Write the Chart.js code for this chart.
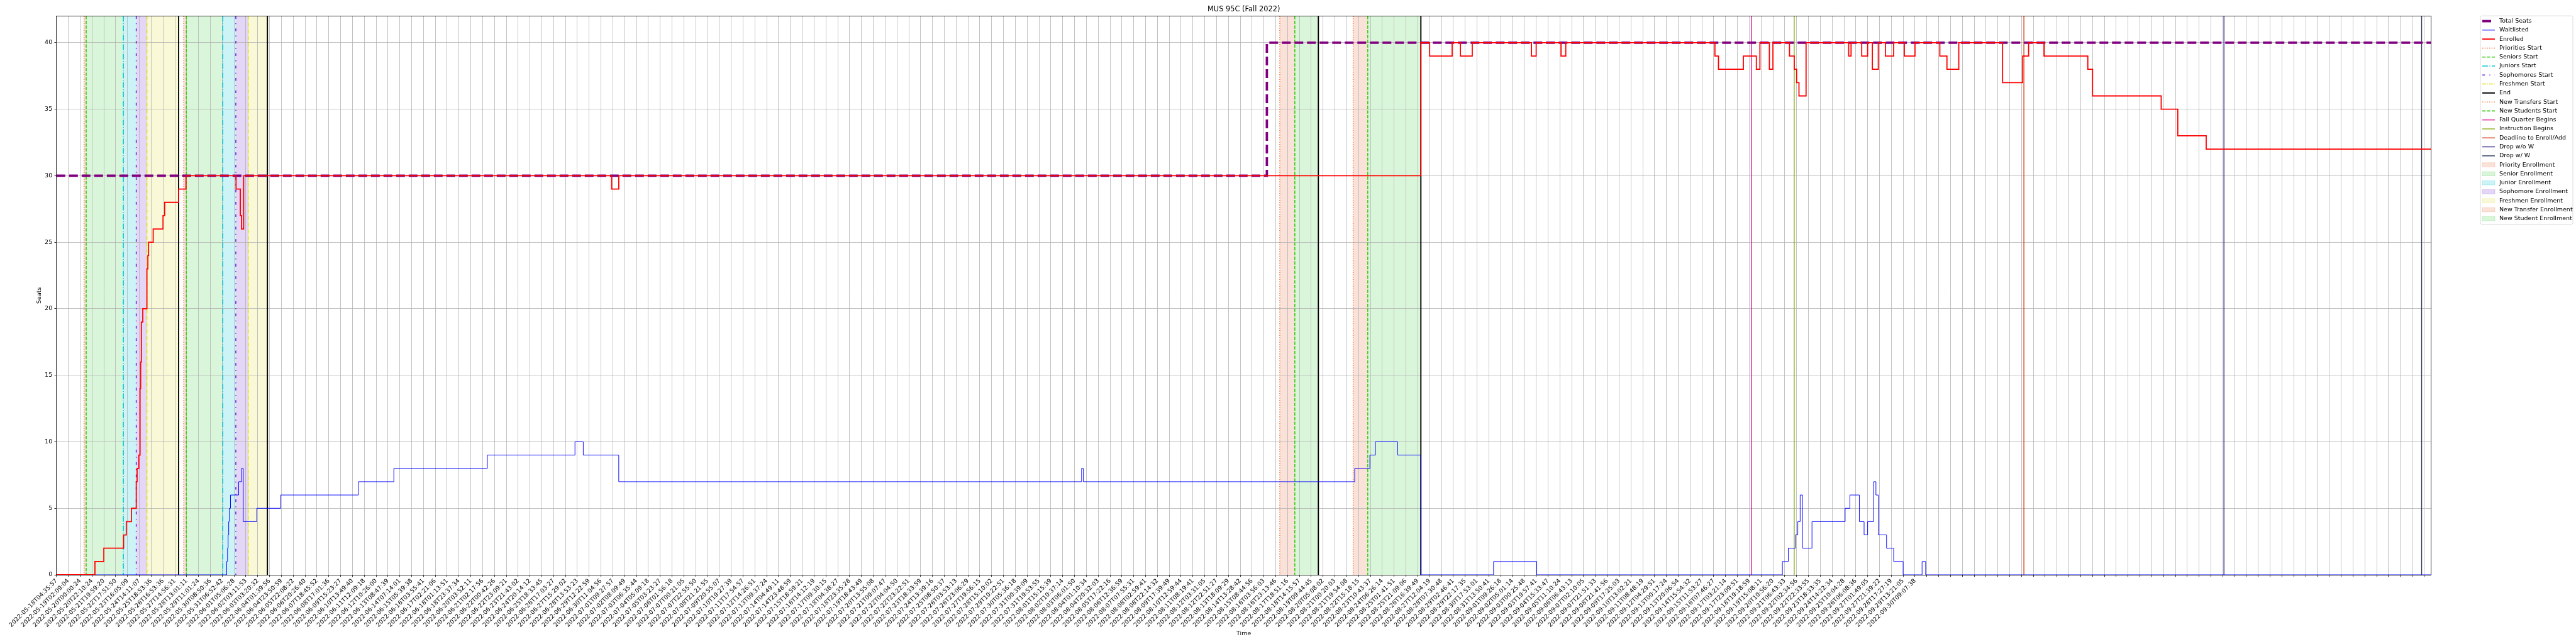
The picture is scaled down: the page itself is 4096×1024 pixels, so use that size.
<!DOCTYPE html>
<html>
<head>
<meta charset="utf-8">
<script src="https://cdn.jsdelivr.net/npm/chart.js@4.4.0/dist/chart.umd.min.js"></script>
<style>html,body{margin:0;padding:0;background:#fff}canvas{display:block}</style>
</head>
<body>
<canvas id="c" width="4096" height="1024"></canvas>
<script>
// x values are positions in tick units (tick i = tickLabels[i])
const tickLabels = [
'2022-05-18T04:35:57','2022-05-19T02:09:04','2022-05-20T00:00:24','2022-05-20T22:10:24','2022-05-21T19:59:20',
'2022-05-22T17:51:50','2022-05-23T16:05:09','2022-05-24T14:11:07','2022-05-25T18:53:36','2022-05-26T16:53:36',
'2022-05-27T14:56:31','2022-05-28T13:01:11','2022-05-29T11:01:24','2022-05-30T08:50:36','2022-05-31T06:52:42',
'2022-06-01T05:06:28','2022-06-02T03:11:53','2022-06-03T03:20:32','2022-06-04T01:39:56','2022-06-04T23:50:59',
'2022-06-05T22:08:22','2022-06-06T20:26:40','2022-06-07T18:45:52','2022-06-08T17:01:36','2022-06-09T15:23:27',
'2022-06-10T13:49:40','2022-06-11T12:09:18','2022-06-12T10:26:00','2022-06-13T08:47:39','2022-06-14T07:14:01',
'2022-06-15T05:39:38','2022-06-16T03:55:41','2022-06-17T02:21:06','2022-06-18T01:13:51','2022-06-18T23:37:34',
'2022-06-20T03:52:11','2022-06-21T02:17:56','2022-06-22T00:42:26','2022-06-22T23:09:21','2022-06-23T21:43:02',
'2022-06-24T20:14:12','2022-06-25T18:33:45','2022-06-26T17:03:27','2022-06-27T15:29:02','2022-06-28T13:53:23',
'2022-06-29T12:22:59','2022-06-30T11:04:56','2022-07-01T09:27:57','2022-07-02T08:09:49','2022-07-03T06:35:44',
'2022-07-04T05:09:18','2022-07-05T03:23:27','2022-07-06T01:56:18','2022-07-07T00:21:05','2022-07-07T22:55:50',
'2022-07-08T21:21:55','2022-07-09T20:55:07','2022-07-10T19:27:39','2022-07-11T17:54:57','2022-07-12T14:26:51',
'2022-07-13T09:37:24','2022-07-14T04:49:11','2022-07-14T23:48:59','2022-07-15T18:59:21','2022-07-16T14:12:19',
'2022-07-17T09:30:15','2022-07-18T04:38:27','2022-07-18T23:35:28','2022-07-19T18:43:49','2022-07-20T13:55:08',
'2022-07-21T09:07:47','2022-07-22T04:04:50','2022-07-22T23:22:51','2022-07-23T18:33:59','2022-07-24T13:39:16',
'2022-07-25T08:50:37','2022-07-26T03:53:13','2022-07-26T23:06:29','2022-07-27T19:56:15','2022-07-28T15:10:02',
'2022-07-29T10:22:51','2022-07-30T05:36:18','2022-07-31T00:39:09','2022-07-31T19:53:55','2022-08-01T15:15:39',
'2022-08-02T10:37:14','2022-08-03T06:01:50','2022-08-04T01:10:34','2022-08-04T20:32:03','2022-08-05T17:22:16',
'2022-08-06T12:36:59','2022-08-07T07:55:31','2022-08-08T02:59:41','2022-08-08T22:14:32','2022-08-09T17:39:49',
'2022-08-10T12:59:44','2022-08-11T08:19:41','2022-08-12T03:31:05','2022-08-12T22:51:27','2022-08-13T18:09:29',
'2022-08-14T13:28:42','2022-08-15T08:44:56','2022-08-16T03:56:03','2022-08-16T23:13:46','2022-08-17T18:51:16',
'2022-08-18T14:15:57','2022-08-19T09:44:45','2022-08-20T05:08:02','2022-08-21T00:20:03','2022-08-21T19:54:08',
'2022-08-22T15:18:15','2022-08-23T10:43:37','2022-08-24T06:26:14','2022-08-25T01:41:51','2022-08-25T21:09:06',
'2022-08-26T16:39:49','2022-08-27T12:04:19','2022-08-28T07:30:48','2022-08-29T02:46:41','2022-08-29T22:17:35',
'2022-08-30T17:53:01','2022-08-31T13:50:41','2022-09-01T09:26:18','2022-09-02T05:01:14','2022-09-03T00:25:48',
'2022-09-03T19:57:41','2022-09-04T15:33:47','2022-09-05T11:10:24','2022-09-06T06:43:13','2022-09-07T02:10:05',
'2022-09-07T21:51:33','2022-09-08T21:41:56','2022-09-09T17:25:03','2022-09-10T13:02:21','2022-09-11T08:48:19',
'2022-09-12T04:29:51','2022-09-13T00:17:24','2022-09-13T20:06:54','2022-09-14T15:54:32','2022-09-15T11:53:27',
'2022-09-16T07:46:27','2022-09-17T03:21:14','2022-09-17T23:09:51','2022-09-18T19:18:59','2022-09-19T15:08:11',
'2022-09-20T10:56:20','2022-09-21T06:43:33','2022-09-22T02:34:56','2022-09-22T22:33:55','2022-09-23T18:33:35',
'2022-09-24T14:22:34','2022-09-25T10:04:28','2022-09-26T06:08:36','2022-09-27T01:49:05','2022-09-27T21:39:22',
'2022-09-28T17:27:19','2022-09-29T13:21:05','2022-09-30T09:07:38','','',
'','','','','', '','','','','', '','','','','', '','','','','',
'','','','','', '','','','','', '','','','','', '','','','','',
''
];
const xEnd = 200.6;
const yTicks = [0, 5, 10, 15, 20, 25, 30, 35, 40];

const seatsT = [0, 102.25, xEnd];
const seatsV = [30, 40, 40];

const waitT = [0, 14.38, 14.45, 14.5, 14.55, 14.6, 14.7, 15.39, 15.64, 15.78, 16.92, 18.94, 25.5, 28.5, 36.4, 43.8, 44.5, 47.5,
  86.6, 86.75, 109.67, 110.95, 111.42, 113.3, 115.25, 121.4, 125.05, 145.8, 146.3, 146.9, 147.1, 147.3, 147.5, 148.3,
  151.1, 151.5, 152.3, 152.7, 153.0, 153.5, 153.7, 153.9, 154.6, 155.2, 156.0, 157.6, 157.9, xEnd];
const waitV = [0, 1, 2, 3, 4, 5, 6, 7, 8, 4, 5, 6, 7, 8, 9, 10, 9, 7,
  8, 7, 8, 9, 10, 9, 0, 1, 0, 1, 2, 3, 4, 6, 2, 4,
  5, 6, 4, 3, 4, 7, 6, 3, 2, 1, 0, 1, 0, 0];

const enrolledT = [0, 3.25, 4.0, 5.67, 5.9, 6.33, 6.74, 6.81, 6.96, 7.06, 7.11, 7.17, 7.29, 7.64, 7.72, 7.78, 8.17, 9.0, 9.14,
  10.32, 10.94, 15.17, 15.53, 15.63, 15.81, 46.9, 47.5, 115.25, 116.0, 117.9, 118.6, 119.6, 124.6, 125.0, 127.1, 127.5,
  140.1, 140.4, 142.5, 143.6, 143.9, 144.7, 145.0, 146.4, 146.8, 147.0, 147.2, 147.8, 151.4, 151.6, 152.5, 153.0, 153.4,
  153.9, 154.5, 155.2, 156.1, 157.0, 159.1, 159.7, 160.7, 164.4, 166.1, 166.6, 167.9, 171.6, 172.0, 177.8, 179.2, 181.6, xEnd];
const enrolledV = [0, 1, 2, 3, 4, 5, 7, 8, 9, 14, 16, 19, 20, 23, 24, 25, 26, 27, 28,
  29, 30, 29, 27, 26, 30, 29, 30, 40, 39, 40, 39, 40, 39, 40, 39, 40,
  39, 38, 39, 38, 40, 38, 40, 39, 38, 37, 36, 40, 39, 40, 39, 40, 38,
  40, 39, 40, 39, 40, 39, 38, 40, 37, 39, 40, 39, 38, 36, 35, 33, 32, 32];

// registration passes: priority, senior, junior, sophomore, freshman starts, then end
const passOne = [2.33, 2.51, 5.65, 6.74, 7.64, 10.32];
const passTwo = [10.75, 10.97, 14.05, 15.15, 16.2, 17.82];
// new transfers, new students, end
const newOne = [103.34, 104.61, 106.6];
const newTwo = [109.54, 110.77, 115.26];
// fall quarter begins, instruction begins, add deadline, drop w/o W, drop w/ W
const termDates = [143.2, 146.8, 166.2, 183.1, 199.8];

const passStyles = [
  { label: 'Priorities Start', color: '#f46a2e', dash: [1.4, 2.3], w: 1.4, fill: 'rgba(236,112,64,0.2)', edge: 'rgba(236,112,64,0.3)', span: 'Priority Enrollment' },
  { label: 'Seniors Start', color: '#3ccc1a', dash: [5.2, 2.3], w: 1.6, fill: 'rgba(50,205,50,0.18)', edge: 'rgba(50,205,50,0.3)', span: 'Senior Enrollment' },
  { label: 'Juniors Start', color: '#10c8d8', dash: [9, 2.3, 1.4, 2.3], w: 1.6, fill: 'rgba(0,200,210,0.2)', edge: 'rgba(0,200,210,0.3)', span: 'Junior Enrollment' },
  { label: 'Sophomores Start', color: '#6a28d8', dash: [4.3, 7, 1.4, 7], w: 1.6, fill: 'rgba(130,70,220,0.22)', edge: 'rgba(130,70,220,0.3)', span: 'Sophomore Enrollment' },
  { label: 'Freshmen Start', color: '#dede22', dash: [6, 1.6, 1.4, 1.6], w: 1.6, fill: 'rgba(220,220,40,0.18)', edge: 'rgba(220,220,40,0.3)', span: 'Freshmen Enrollment' },
  { label: 'End', color: '#000000', dash: [], w: 1.9 }
];
const newStyles = [
  { label: 'New Transfers Start', color: '#f46a2e', dash: [1.4, 2.3], w: 1.4, fill: 'rgba(236,112,64,0.2)', edge: 'rgba(236,112,64,0.3)', span: 'New Transfer Enrollment' },
  { label: 'New Students Start', color: '#3ccc1a', dash: [5.2, 2.3], w: 1.6, fill: 'rgba(50,205,50,0.18)', edge: 'rgba(50,205,50,0.3)', span: 'New Student Enrollment' },
  { label: 'End', color: '#000000', dash: [], w: 1.9 }
];
const termStyles = [
  { label: 'Fall Quarter Begins', color: '#e0189a', dash: [], w: 1.4 },
  { label: 'Instruction Begins', color: '#8db31c', dash: [], w: 1.4 },
  { label: 'Deadline to Enroll/Add', color: '#d8451e', dash: [], w: 1.4 },
  { label: 'Drop w/o W', color: '#35288a', dash: [], w: 1.4 },
  { label: 'Drop w/ W', color: '#2c3a58', dash: [], w: 1.4 }
];

const FONT = 'DejaVu Sans';
const pts = (t, v) => t.map((x, i) => ({ x: x, y: v[i] }));

const legendItems = [
  { type: 'line', label: 'Total Seats', color: '#800080', w: 3.8, dash: [14, 6] },
  { type: 'line', label: 'Waitlisted', color: '#0000ff', w: 0.95, dash: [] },
  { type: 'line', label: 'Enrolled', color: '#ff0000', w: 1.9, dash: [] }
]
  .concat(passStyles.map(s => ({ type: 'line', label: s.label, color: s.color, w: s.w, dash: s.dash })))
  .concat(newStyles.slice(0, 2).map(s => ({ type: 'line', label: s.label, color: s.color, w: s.w, dash: s.dash })))
  .concat(termStyles.map(s => ({ type: 'line', label: s.label, color: s.color, w: s.w, dash: s.dash })))
  .concat(passStyles.slice(0, 5).map(s => ({ type: 'patch', label: s.span, fill: s.fill, edge: s.edge })))
  .concat(newStyles.slice(0, 2).map(s => ({ type: 'patch', label: s.span, fill: s.fill, edge: s.edge })));

const overlay = {
  id: 'overlay',
  beforeDraw(chart) {
    const { ctx, chartArea: a, scales: { x } } = chart;
    ctx.save();
    ctx.fillStyle = '#fff';
    ctx.fillRect(0, 0, chart.width, chart.height);
    const span = (x1, x2, col) => {
      const p1 = x.getPixelForValue(x1), p2 = x.getPixelForValue(x2);
      ctx.fillStyle = col;
      ctx.fillRect(p1, a.top, p2 - p1, a.bottom - a.top);
    };
    [passOne, passTwo].forEach(s => { for (let i = 0; i < 5; i++) span(s[i], s[i + 1], passStyles[i].fill); });
    [newOne, newTwo].forEach(s => { for (let i = 0; i < 2; i++) span(s[i], s[i + 1], newStyles[i].fill); });
    ctx.restore();
  },
  beforeDatasetsDraw(chart) {
    const { ctx, chartArea: a, scales: { x } } = chart;
    const vline = (v, st) => {
      const p = x.getPixelForValue(v);
      ctx.save();
      ctx.strokeStyle = st.color;
      ctx.lineWidth = st.w;
      ctx.setLineDash(st.dash);
      ctx.beginPath();
      ctx.moveTo(p, a.top);
      ctx.lineTo(p, a.bottom);
      ctx.stroke();
      ctx.restore();
    };
    [passOne, passTwo].forEach(s => s.forEach((v, i) => vline(v, passStyles[i])));
    [newOne, newTwo].forEach(s => s.forEach((v, i) => vline(v, newStyles[i])));
    termDates.forEach((v, i) => vline(v, termStyles[i]));
  },
  afterDraw(chart) {
    const { ctx, chartArea: a } = chart;
    ctx.save();
    // top and right spines
    ctx.strokeStyle = '#000';
    ctx.lineWidth = 0.8;
    ctx.beginPath();
    ctx.moveTo(a.left, a.top); ctx.lineTo(a.right, a.top); ctx.lineTo(a.right, a.bottom);
    ctx.stroke();

    const cx = (a.left + a.right) / 2;
    ctx.fillStyle = '#000';
    ctx.textAlign = 'center';
    ctx.textBaseline = 'middle';
    ctx.font = '11.4px "' + FONT + '"';
    ctx.fillText('MUS 95C (Fall 2022)', cx, 15.5);
    ctx.font = '9.5px "' + FONT + '"';
    ctx.fillText('Time', cx, 1008);
    ctx.save();
    ctx.translate(62.7, (a.top + a.bottom) / 2);
    ctx.rotate(-Math.PI / 2);
    ctx.fillText('Seats', 0, 0);
    ctx.restore();

    // legend, matplotlib style, outside right
    const lx = 3944, ly = 25.2, lw = 147, lh = 331.5;
    ctx.fillStyle = 'rgba(255,255,255,0.8)';
    ctx.strokeStyle = '#cccccc';
    ctx.lineWidth = 0.7;
    ctx.beginPath();
    ctx.roundRect(lx, ly, lw, lh, 2.5);
    ctx.fill();
    ctx.stroke();
    ctx.textAlign = 'left';
    ctx.font = '9.5px "' + FONT + '"';
    legendItems.forEach((it, i) => {
      const cy = 33.6 + i * 14.28;
      if (it.type === 'line') {
        ctx.strokeStyle = it.color;
        ctx.lineWidth = it.w;
        ctx.setLineDash(it.dash);
        ctx.beginPath();
        ctx.moveTo(3947, cy);
        ctx.lineTo(3967, cy);
        ctx.stroke();
        ctx.setLineDash([]);
      } else {
        ctx.fillStyle = it.fill;
        ctx.fillRect(3947, cy - 3.3, 20, 6.6);
        ctx.strokeStyle = it.edge;
        ctx.lineWidth = 0.7;
        ctx.strokeRect(3947, cy - 3.3, 20, 6.6);
      }
      ctx.fillStyle = '#000';
      ctx.fillText(it.label, 3974, cy);
    });
    ctx.restore();
  }
};

new Chart(document.getElementById('c'), {
  type: 'line',
  data: {
    datasets: [
      { label: 'Total Seats', data: pts(seatsT, seatsV), stepped: 'before', borderColor: '#800080', borderWidth: 3.8, borderDash: [14, 6], pointRadius: 0, order: 3 },
      { label: 'Waitlisted', data: pts(waitT, waitV), stepped: 'before', borderColor: '#0000ff', borderWidth: 0.95, pointRadius: 0, order: 2 },
      { label: 'Enrolled', data: pts(enrolledT, enrolledV), stepped: 'before', borderColor: '#ff0000', borderWidth: 1.8, pointRadius: 0, order: 1,
        segment: { borderWidth: c => (c.p0.parsed.y === 30 && c.p1.parsed.y === 30) ? 0.9 : undefined } }
    ]
  },
  options: {
    responsive: false,
    devicePixelRatio: 1,
    animation: false,
    events: [],
    layout: { padding: { left: 0, top: 25.6, right: 230.4, bottom: 0 } },
    plugins: { legend: { display: false }, title: { display: false }, tooltip: { enabled: false } },
    scales: {
      x: {
        type: 'linear', min: 0, max: xEnd,
        afterBuildTicks: s => { s.ticks = tickLabels.map((_, i) => ({ value: i })); },
        afterFit: s => { s.height = 110; },
        ticks: { autoSkip: false, minRotation: 45, maxRotation: 45, padding: 1, color: '#000', font: { family: FONT, size: 9.5 },
          callback: v => tickLabels[v] || '' },
        grid: { color: '#b0b0b0', lineWidth: 0.76, tickLength: 3.3, tickColor: '#000', tickWidth: 0.8 },
        border: { color: '#000', width: 0.8 }
      },
      y: {
        min: 0, max: 42,
        afterBuildTicks: s => { s.ticks = yTicks.map(v => ({ value: v })); },
        afterFit: s => { s.width = 89.8; },
        ticks: { padding: 3.3, color: '#000', font: { family: FONT, size: 9.5 } },
        grid: { color: '#b0b0b0', lineWidth: 0.76, tickLength: 3.3, tickColor: '#000', tickWidth: 0.8 },
        border: { color: '#000', width: 0.8 }
      }
    }
  },
  plugins: [overlay]
});
</script>
</body>
</html>
